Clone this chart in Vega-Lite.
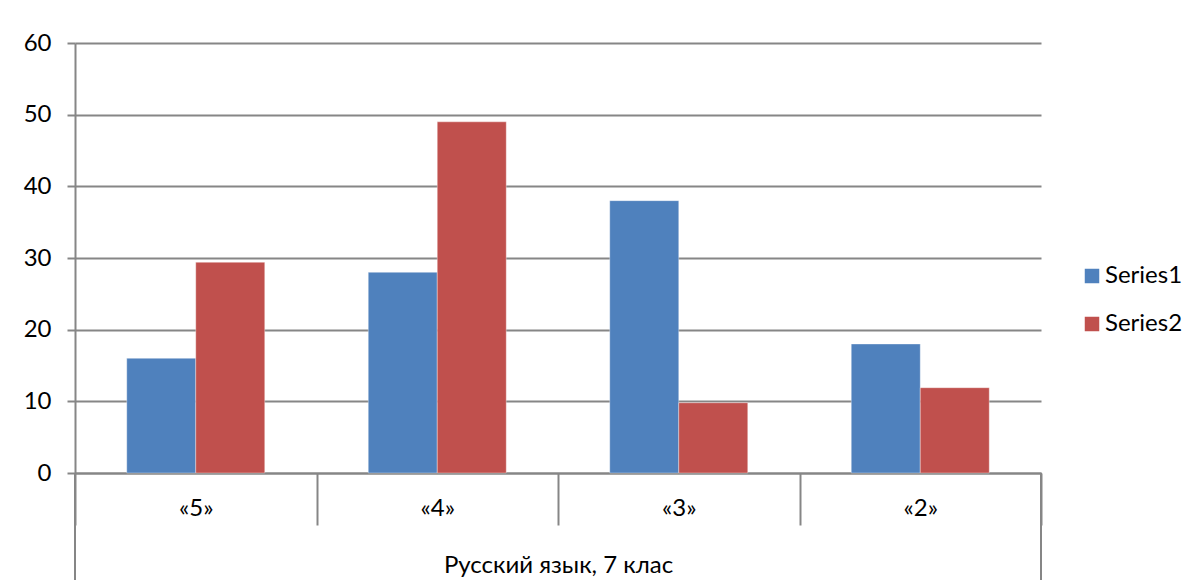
{
  "$schema": "https://vega.github.io/schema/vega-lite/v6.json",
  "autosize": "none",
  "width": 966,
  "height": 430,
  "padding": {"left": 75, "top": 43, "right": 159, "bottom": 107},
  "background": "white",
  "config": {
    "font": "Lato",
    "view": {"stroke": null},
    "axis": {"labelFont": "Lato", "titleFont": "Lato", "labelColor": "black", "titleColor": "black"}
  },
  "data": {
    "values": [
      {"category": "«5»", "series": "Series1", "value": 16},
      {"category": "«5»", "series": "Series2", "value": 29.4},
      {"category": "«4»", "series": "Series1", "value": 28},
      {"category": "«4»", "series": "Series2", "value": 49},
      {"category": "«3»", "series": "Series1", "value": 38},
      {"category": "«3»", "series": "Series2", "value": 9.8},
      {"category": "«2»", "series": "Series1", "value": 18},
      {"category": "«2»", "series": "Series2", "value": 11.9}
    ]
  },
  "encoding": {
    "x": {
      "field": "category",
      "type": "nominal",
      "sort": ["«5»", "«4»", "«3»", "«2»"],
      "scale": {"paddingInner": 0, "paddingOuter": 0},
      "axis": {
        "title": "Русский язык, 7 клас",
        "titleFontSize": 24,
        "titleFontWeight": "normal",
        "titleBaseline": "alphabetic",
        "titleY": 99,
        "labelAngle": 0,
        "labelFontSize": 24,
        "labelBaseline": "alphabetic",
        "labelPadding": -10,
        "tickBand": "extent",
        "tickSize": 52,
        "tickColor": "#868686",
        "tickWidth": 2,
        "domainColor": "#868686",
        "domainWidth": 2,
        "grid": false
      }
    }
  },
  "layer": [
    {
      "mark": {"type": "bar", "stroke": "white", "strokeOpacity": 0.35, "strokeWidth": 1},
      "encoding": {
        "xOffset": {"field": "series", "type": "nominal", "scale": {"paddingOuter": 0.75, "paddingInner": 0}},
        "y": {
          "field": "value",
          "type": "quantitative",
          "scale": {"domain": [0, 60], "nice": false, "zero": true},
          "axis": {
            "title": null,
            "values": [0, 10, 20, 30, 40, 50, 60],
            "labelFontSize": 24,
            "labelPadding": 16,
            "tickSize": 8,
            "tickColor": "#868686",
            "tickWidth": 2,
            "domainColor": "#868686",
            "domainWidth": 2,
            "gridColor": "#868686",
            "gridWidth": 2
          }
        },
        "color": {
          "field": "series",
          "type": "nominal",
          "scale": {"domain": ["Series1", "Series2"], "range": ["#4F81BD", "#C0504D"]},
          "legend": {
            "title": null,
            "orient": "none",
            "legendX": 1005,
            "legendY": 221,
            "padding": 0,
            "symbolType": "square",
            "symbolSize": 210,
            "symbolStrokeWidth": 0,
            "labelFontSize": 24,
            "labelFont": "Lato",
            "labelColor": "black",
            "labelOffset": 1,
            "rowPadding": 24
          }
        }
      }
    },
    {
      "transform": [{"filter": "datum.category == '«5»' && datum.series == 'Series1'"}],
      "mark": {"type": "rule", "color": "#868686", "strokeWidth": 2},
      "encoding": {
        "x": {"field": "category", "type": "nominal", "bandPosition": 0, "sort": ["«5»", "«4»", "«3»", "«2»"]},
        "y": {"datum": 0, "type": "quantitative"},
        "y2": {"datum": -14.93}
      }
    },
    {
      "transform": [{"filter": "datum.category == '«2»' && datum.series == 'Series1'"}],
      "mark": {"type": "rule", "color": "#868686", "strokeWidth": 2},
      "encoding": {
        "x": {"field": "category", "type": "nominal", "bandPosition": 1, "sort": ["«5»", "«4»", "«3»", "«2»"]},
        "y": {"datum": 0, "type": "quantitative"},
        "y2": {"datum": -14.93}
      }
    }
  ]
}
